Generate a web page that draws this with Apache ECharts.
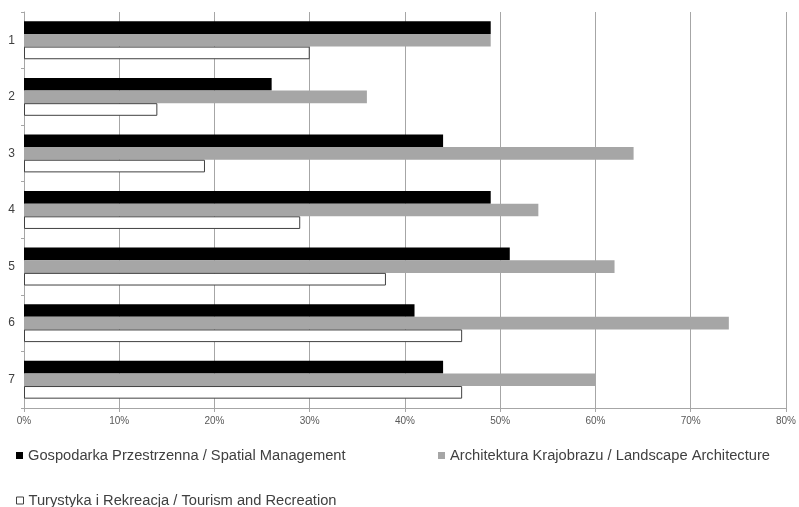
<!DOCTYPE html>
<html><head><meta charset="utf-8">
<script src="https://cdn.jsdelivr.net/npm/echarts@6/dist/echarts.min.js"></script>
<style>html,body{margin:0;padding:0;background:#fff}#c{width:799px;height:507px}</style>
</head><body><div id="c"></div>
<script>
const categories = ['1','2','3','4','5','6','7'];
const spatial = [49, 26, 44, 49, 51, 41, 44];
const landscape = [49, 36, 64, 54, 62, 74, 60];
const tourism = [30, 14, 19, 29, 38, 46, 46];
const xTicks = [0,10,20,30,40,50,60,70,80];
const names = ['Gospodarka Przestrzenna / Spatial Management','Architektura Krajobrazu / Landscape Architecture','Turystyka i Rekreacja / Tourism and Recreation'];

const chart = echarts.init(document.getElementById('c'), null, {renderer:'canvas'});
const font = 'Liberation Sans Narrow, Liberation Sans, sans-serif';
const legendBase = {icon:'rect', itemWidth:7, itemHeight:7, itemGap:6, textStyle:{fontFamily:font, fontSize:14.7, color:'#404040'}, selectedMode:false};
chart.setOption({
  animation:false,
  grid:{left:24, right:11, top:12, bottom:99},
  legend:[
    Object.assign({data:[names[0]], left:11, top:443}, legendBase),
    Object.assign({data:[names[1]], left:433, top:443}, legendBase),
    Object.assign({data:[names[2]], left:11, top:488, itemStyle:{borderWidth:1}}, legendBase)
  ],
  xAxis:{type:'value', min:0, max:80, interval:10,
    axisLabel:{formatter:v=>v+'%', fontFamily:font, fontSize:10, color:'#595959', margin:8},
    axisLine:{show:true, lineStyle:{color:'#a6a6a6'}},
    axisTick:{show:true, length:4, lineStyle:{color:'#a6a6a6'}},
    splitLine:{show:true, lineStyle:{color:'#a6a6a6', width:1}}},
  yAxis:{type:'category', data:categories, inverse:true,
    axisLabel:{fontFamily:font, fontSize:12, color:'#404040', margin:9},
    axisLine:{show:true, lineStyle:{color:'#a6a6a6'}},
    axisTick:{show:true, length:3, lineStyle:{color:'#a6a6a6'}}},
  series:[
    {name:names[0], type:'bar', data:spatial, barGap:'0%', barCategoryGap:'33%', itemStyle:{color:'#000000'}},
    {name:names[1], type:'bar', data:landscape, barGap:'0%', barCategoryGap:'33%', itemStyle:{color:'#a6a6a6'}},
    {name:names[2], type:'bar', data:tourism, barGap:'0%', barCategoryGap:'33%', itemStyle:{color:'#ffffff', borderColor:'#404040', borderWidth:1}}
  ]
});
</script></body></html>
